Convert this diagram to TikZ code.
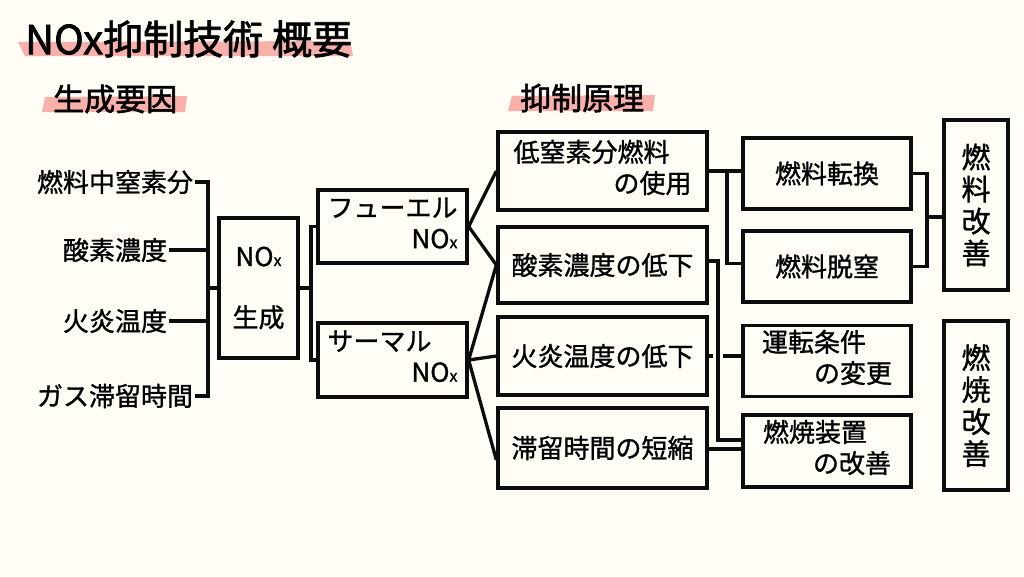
\documentclass[tikz,border=0pt]{standalone}
\usepackage{fontspec}
\setmainfont{Noto Sans CJK JP}[FakeBold=1.1]
\newfontfamily\titlefont{Noto Sans CJK JP}[FakeBold=1.7]
\usetikzlibrary{calc}
\definecolor{bgc}{RGB}{255,253,246}
\definecolor{pinkc}{RGB}{247,176,170}
\definecolor{ink}{RGB}{12,12,12}
\pgfdeclarelayer{back}
\pgfsetlayers{back,main}
\newcommand\fs[2]{\fontsize{#1pt}{#2pt}\selectfont}
\newcommand\nox{NO{\fs{16}{16}x}}
\newcommand\twol[3]{\begin{tabular}{@{}l@{}}\makebox[#1][l]{#2}\\\makebox[#1][r]{#3}\end{tabular}}
\begin{document}
\begin{tikzpicture}[x=1pt,y=-1pt,
  box/.style={draw=ink, line width=3.3pt, fill=bgc, inner sep=0pt, font=\fs{26}{31}},
  conn/.style={draw=ink, line width=3.3pt},
  lbl/.style={inner sep=1.5pt, font=\fs{26}{31}},
  head/.style={anchor=west, inner sep=0pt},
  bridge/.style={preaction={draw=bgc, line width=10.5pt}},
  hl/.style={fill=pinkc}]
\begin{pgfonlayer}{back}
\fill[bgc] (0,0) rectangle (1024,576);
\end{pgfonlayer}
\useasboundingbox (0,0) rectangle (1024,576);

% highlight strokes
\fill[hl] (18,42) -- (350,41) -- (353,56) -- (25,56) -- cycle;
\fill[hl] (45,97) -- (187,96) -- (185,112) -- (42,112) -- cycle;
\fill[hl] (512,96) -- (655,95) -- (653,111) -- (508,111) -- cycle;

% headings
\node[head, font=\titlefont\fs{40}{44}] (title) at (25,39) {NOx抑制技術 概要};
\node[head, font=\titlefont\fs{31}{36}] (hgen) at (53,99) {生成要因};
\node[head, font=\titlefont\fs{31}{36}] (hsup) at (520,98) {抑制原理};

% left labels
\node[lbl] (f1) at (115,182) {燃料中窒素分};
\node[lbl] (f2) at (115,250) {酸素濃度};
\node[lbl] (f3) at (115,321) {火炎温度};
\node[lbl] (f4) at (115,396) {ガス滞留時間};

% boxes
\node[box, minimum width=79pt, minimum height=140pt, align=center, font=\fs{26}{61}] (gen) at (258.5,288) {\nox\\生成};
\node[box, minimum width=149pt, minimum height=73pt] (fuel) at (392.5,226.5) {\twol{130pt}{フューエル}{\nox}};
\node[box, minimum width=149pt, minimum height=74pt] (thermal) at (392.5,360) {\twol{130pt}{サーマル}{\nox}};

\node[box, minimum width=209pt, minimum height=78pt] (low) at (602.5,171) {\twol{178pt}{低窒素分燃料}{の使用}};
\node[box, minimum width=209pt, minimum height=76pt] (oxy) at (602.5,265) {酸素濃度の低下};
\node[box, minimum width=209pt, minimum height=78pt] (flame) at (602.5,356) {火炎温度の低下};
\node[box, minimum width=209pt, minimum height=80pt] (resid) at (602.5,448) {滞留時間の短縮};

\node[box, minimum width=168pt, minimum height=71pt] (conv) at (827,173.5) {燃料転換};
\node[box, minimum width=168pt, minimum height=71pt] (denit) at (827,266.5) {燃料脱窒};
\node[box, minimum width=168pt, minimum height=71pt] (oper) at (827,361) {\twol{130pt}{運転条件}{の変更}};
\node[box, minimum width=168pt, minimum height=72pt] (equip) at (827,451) {\twol{128pt}{燃焼装置}{の改善}};

\node[box, minimum width=64pt, minimum height=170pt, align=center, font=\fs{29}{32}] (fimp) at (976,205) {燃\\料\\改\\善};
\node[box, minimum width=64pt, minimum height=169pt, align=center, font=\fs{29}{32}] (cimp) at (976,405.5) {燃\\焼\\改\\善};

% connectors
\coordinate (jl) at (208,288);
\coordinate (jg) at (311,288);
\coordinate (jA) at (727,0);
\coordinate (jB) at (718,0);
\coordinate (jC) at (927,217);
\begin{pgfonlayer}{back}
\draw[conn] (f1.east) -- (f1.east -| jl) -- (f4.east -| jl) -- (f4.east);
\draw[conn] (f2.east) -- (f2.east -| jl);
\draw[conn] (f3.east) -- (f3.east -| jl);
\draw[conn] (jl) -- (gen.west);
\draw[conn] (gen.east) -- (jg);
\draw[conn] (fuel.west) -| (jg) |- (thermal.west);

\draw[conn] (fuel.east) -- (low.west);
\draw[conn] (fuel.east) -- (oxy.west);
\draw[conn] (thermal.east) -- (oxy.west);
\draw[conn] (thermal.east) -- (flame.west);
\draw[conn] (thermal.east) -- ($(resid.west)+(0,12)$);

\draw[conn] (low.east) -- (low.east -| conv.west);
\draw[conn] (low.east -| jA) |- ($(denit.west)+(0,-3)$);
\draw[conn] (flame.east) -- (flame.east -| oper.west);
\draw[conn, bridge] ($(oxy.east)+(0,-4)$) -| ($(jB |- equip.west)+(0,-11)$) -- ($(equip.west)+(0,-11)$);
\draw[conn] ($(resid.east)+(0,1)$) -- ($(equip.west |- resid.east)+(0,1)$);

\draw[conn] (conv.east) -| (jC) |- (denit.east);
\draw[conn] (jC) -- (jC -| fimp.west);
\end{pgfonlayer}
\end{tikzpicture}
\end{document}
